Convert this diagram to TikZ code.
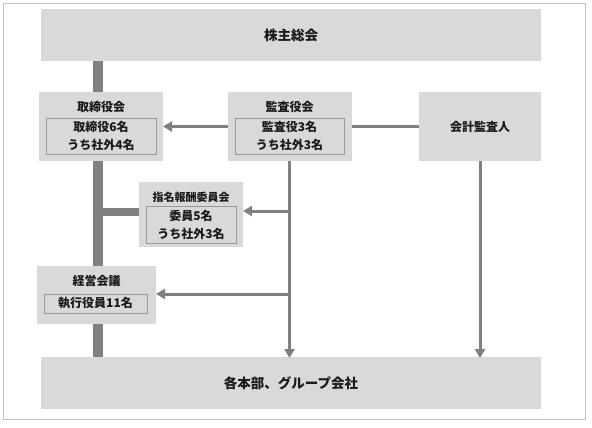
\documentclass[tikz,border=0pt]{standalone}
\usepackage{fontspec}
\setmainfont{Noto Sans CJK JP}
\usetikzlibrary{arrows.meta,backgrounds}
\definecolor{boxgray}{HTML}{D9D9D9}
\definecolor{linegray}{HTML}{808080}
\definecolor{framegray}{HTML}{BFBFBF}
\definecolor{ingray}{HTML}{9A9A9A}
\definecolor{txt}{HTML}{1A1A1A}
\begin{document}
\begin{tikzpicture}[x=1pt,y=-1pt,
  box/.style={fill=boxgray,draw=none,inner sep=0pt,outer sep=0pt},
  inbox/.style={fill=boxgray,draw=ingray,line width=0.8pt,inner sep=0pt,outer sep=0pt,align=center,text=txt,font=\bfseries\fontsize{12}{18}\selectfont},
  ttl/.style={inner sep=0pt,text=txt,font=\bfseries\fontsize{12}{14}\selectfont},
  big/.style={text=txt,font=\bfseries\fontsize{13.5}{16}\selectfont},
  arr/.style={draw=linegray,line width=3pt,-{Triangle[length=9pt,width=10pt]}},
  conn/.style={draw=linegray,line width=3pt},
  barline/.style={draw=linegray,line width=10pt}]
\useasboundingbox (0,0) rectangle (592,428);
\draw[framegray,line width=1pt] (3.5,3.5) rectangle (585.5,419.5);
% main boxes
\node[box,big,minimum width=500pt,minimum height=52pt] (top) at (291,35) {株主総会};
\node[box,big,minimum width=500pt,minimum height=52pt] (bottom) at (291,383) {各本部、グループ会社};
% board
\node[box,minimum width=124pt,minimum height=69pt] (tori) at (101,126.5) {};
\node[ttl] (toriT) at (101,107) {取締役会};
\node[inbox,minimum width=110pt,minimum height=36pt] (toriI) at (101,136) {取締役6名\\うち社外4名};
% audit
\node[box,minimum width=124pt,minimum height=69pt] (kansa) at (289.5,126.5) {};
\node[ttl] (kansaT) at (289.5,107) {監査役会};
\node[inbox,minimum width=109pt,minimum height=36pt] (kansaI) at (289.5,136) {監査役3名\\うち社外3名};
% accounting auditor
\node[box,ttl,minimum width=122pt,minimum height=69pt] (kaikei) at (480,126.5) {会計監査人};
% nomination
\node[box,minimum width=104pt,minimum height=65pt] (shimei) at (191,214.5) {};
\node[ttl,font=\bfseries\fontsize{11}{13}\selectfont] (shimeiT) at (191,197) {指名報酬委員会};
\node[inbox,minimum width=90pt,minimum height=37pt] (shimeiI) at (191,224.5) {委員5名\\うち社外3名};
% management
\node[box,minimum width=119pt,minimum height=58pt] (keiei) at (96.5,295) {};
\node[ttl] (keieiT) at (96.5,281) {経営会議};
\node[inbox,minimum width=103pt,minimum height=19pt] (keieiI) at (95.5,303.5) {執行役員11名};
% connectors
\coordinate (barx) at (98,0);
\coordinate (j1) at (289.5,211);
\coordinate (j2) at (289.5,294);
\begin{scope}[on background layer]
\draw[barline] (barx |- top.south) -- (barx |- bottom.north);
\draw[barline,line width=8pt] (barx |- 0,212) -- (shimei.west |- 0,212);
\end{scope}
\draw[arr] (kansa.west) -- (tori.east);
\draw[conn] (kansa.east) -- (kaikei.west);
\draw[arr] (kansa.south) -- ([yshift=-1pt]kansa.south |- bottom.north);
\draw[arr] (kaikei.south) -- ([yshift=-1pt]kaikei.south |- bottom.north);
\draw[arr] (j1) -- (j1 -| shimei.east);
\draw[arr] (j2) -- (j2 -| keiei.east);
\end{tikzpicture}
\end{document}
